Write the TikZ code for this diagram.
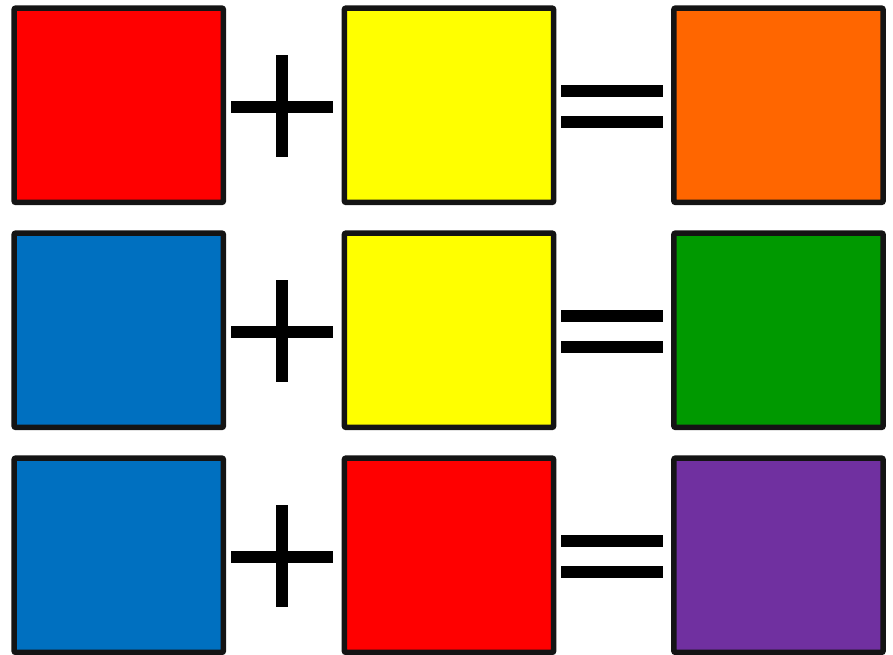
\documentclass[tikz,border=0pt]{standalone}
\usepackage{tikz}
\usepackage{xcolor}
\definecolor{edgegray}{HTML}{141414}
\definecolor{mixred}{HTML}{FF0000}
\definecolor{mixyellow}{HTML}{FFFF00}
\definecolor{mixorange}{HTML}{FF6600}
\definecolor{mixblue}{HTML}{0070C0}
\definecolor{mixgreen}{HTML}{009900}
\definecolor{mixpurple}{HTML}{7030A0}

\begin{document}
\begin{tikzpicture}[
  x=0.02cm, y=-0.02cm,
  swatch/.style={draw=edgegray, line width=0.11cm, rounded corners=0.04cm, inner sep=0pt, minimum width=4.19cm, minimum height=3.89cm},
  bar/.style={line width=0.24cm, black}
]
\useasboundingbox (0,0) rectangle (893,654);

% red + yellow = orange
\node[swatch, fill=mixred] (r1a) at (118.75,105.25) {};
\node[swatch, fill=mixyellow] (r1b) at (449,105.25) {};
\node[swatch, fill=mixorange] (r1c) at (778.5,105.25) {};

% blue + yellow = green
\node[swatch, fill=mixblue] (r2a) at (118.75,330.25) {};
\node[swatch, fill=mixyellow] (r2b) at (449,330.25) {};
\node[swatch, fill=mixgreen] (r2c) at (778.5,330.25) {};

% blue + red = purple
\node[swatch, fill=mixblue] (r3a) at (118.75,555.25) {};
\node[swatch, fill=mixred] (r3b) at (449,555.25) {};
\node[swatch, fill=mixpurple] (r3c) at (778.5,555.25) {};

% plus and equals signs
\draw[bar] (231,106.7) -- (333,106.7);
\draw[bar] (282,55) -- (282,157.3);
\draw[bar] (561,91.2) -- (663,91.2);
\draw[bar] (561,122.2) -- (663,122.2);

\draw[bar] (231,331.7) -- (333,331.7);
\draw[bar] (282,280) -- (282,382.3);
\draw[bar] (561,316.2) -- (663,316.2);
\draw[bar] (561,347.2) -- (663,347.2);

\draw[bar] (231,556.7) -- (333,556.7);
\draw[bar] (282,505) -- (282,607.3);
\draw[bar] (561,541.2) -- (663,541.2);
\draw[bar] (561,572.2) -- (663,572.2);

\end{tikzpicture}
\end{document}
